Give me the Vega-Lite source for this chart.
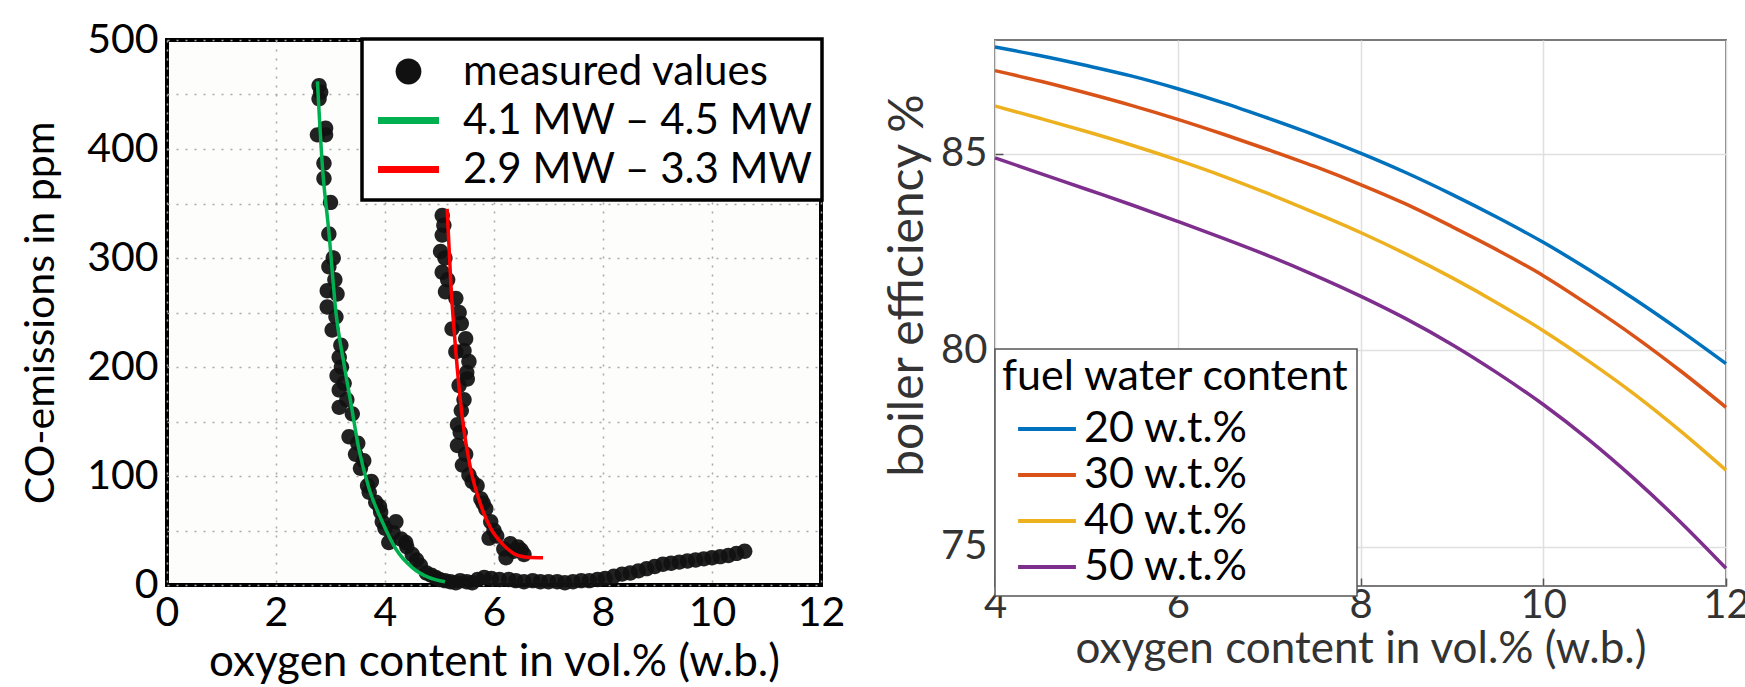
{
  "$schema": "https://vega.github.io/schema/vega-lite/v6.json",
  "background": "white",
  "padding": {"left": 18, "top": 17, "right": 0, "bottom": 0},
  "autosize": {"type": "pad"},
  "config": {"font": "Lato"},
  "spacing": 174,
  "bounds": "flush",
  "datasets": {
    "measured": [
      {"o2": 2.79, "co": 458}, {"o2": 2.79, "co": 446}, {"o2": 2.82, "co": 452}, {"o2": 2.76, "co": 413}, {"o2": 2.91, "co": 419},
      {"o2": 2.91, "co": 413}, {"o2": 2.88, "co": 387}, {"o2": 2.88, "co": 373}, {"o2": 3.0, "co": 351}, {"o2": 2.97, "co": 322},
      {"o2": 3.05, "co": 300}, {"o2": 2.97, "co": 292}, {"o2": 3.08, "co": 280}, {"o2": 2.94, "co": 270}, {"o2": 3.12, "co": 267},
      {"o2": 2.94, "co": 255}, {"o2": 3.1, "co": 246}, {"o2": 3.03, "co": 234}, {"o2": 3.19, "co": 220}, {"o2": 3.16, "co": 209},
      {"o2": 3.2, "co": 200}, {"o2": 3.12, "co": 192}, {"o2": 3.25, "co": 185}, {"o2": 3.16, "co": 179}, {"o2": 3.3, "co": 170},
      {"o2": 3.16, "co": 163}, {"o2": 3.4, "co": 157}, {"o2": 3.34, "co": 136}, {"o2": 3.5, "co": 130}, {"o2": 3.46, "co": 120},
      {"o2": 3.61, "co": 114}, {"o2": 3.55, "co": 107}, {"o2": 3.75, "co": 95}, {"o2": 3.68, "co": 91}, {"o2": 3.71, "co": 85},
      {"o2": 3.83, "co": 76}, {"o2": 3.9, "co": 72}, {"o2": 3.92, "co": 67}, {"o2": 3.95, "co": 58}, {"o2": 4.2, "co": 58},
      {"o2": 4.0, "co": 52}, {"o2": 4.15, "co": 48}, {"o2": 4.3, "co": 42}, {"o2": 4.07, "co": 39}, {"o2": 4.38, "co": 39},
      {"o2": 4.4, "co": 35}, {"o2": 4.5, "co": 28}, {"o2": 4.58, "co": 23}, {"o2": 4.65, "co": 18}, {"o2": 4.76, "co": 11},
      {"o2": 4.85, "co": 9}, {"o2": 4.93, "co": 7}, {"o2": 5.0, "co": 5}, {"o2": 5.1, "co": 4}, {"o2": 5.2, "co": 3},
      {"o2": 5.3, "co": 2}, {"o2": 5.38, "co": 4}, {"o2": 5.5, "co": 3}, {"o2": 5.6, "co": 2}, {"o2": 5.7, "co": 5},
      {"o2": 5.82, "co": 7}, {"o2": 5.95, "co": 6}, {"o2": 6.1, "co": 5}, {"o2": 6.27, "co": 5}, {"o2": 6.4, "co": 4},
      {"o2": 6.55, "co": 3}, {"o2": 6.71, "co": 4}, {"o2": 6.85, "co": 3}, {"o2": 7.0, "co": 3}, {"o2": 7.16, "co": 3},
      {"o2": 7.3, "co": 2}, {"o2": 7.45, "co": 3}, {"o2": 7.6, "co": 4}, {"o2": 7.75, "co": 4}, {"o2": 7.9, "co": 5},
      {"o2": 8.04, "co": 6}, {"o2": 8.2, "co": 8}, {"o2": 8.35, "co": 10}, {"o2": 8.5, "co": 11}, {"o2": 8.65, "co": 13},
      {"o2": 8.8, "co": 15}, {"o2": 8.95, "co": 17}, {"o2": 9.1, "co": 19}, {"o2": 9.25, "co": 20}, {"o2": 9.4, "co": 21},
      {"o2": 9.55, "co": 22}, {"o2": 9.7, "co": 23}, {"o2": 9.85, "co": 24}, {"o2": 10.0, "co": 25}, {"o2": 10.15, "co": 26},
      {"o2": 10.3, "co": 27}, {"o2": 10.45, "co": 29}, {"o2": 10.6, "co": 31},
      {"o2": 5.05, "co": 339}, {"o2": 5.08, "co": 330}, {"o2": 5.05, "co": 321}, {"o2": 5.02, "co": 306}, {"o2": 5.1, "co": 300},
      {"o2": 5.05, "co": 287}, {"o2": 5.15, "co": 280}, {"o2": 5.11, "co": 269}, {"o2": 5.3, "co": 263}, {"o2": 5.36, "co": 250},
      {"o2": 5.4, "co": 240}, {"o2": 5.23, "co": 235}, {"o2": 5.48, "co": 226}, {"o2": 5.45, "co": 215}, {"o2": 5.3, "co": 214},
      {"o2": 5.54, "co": 205}, {"o2": 5.5, "co": 195}, {"o2": 5.51, "co": 189}, {"o2": 5.36, "co": 183}, {"o2": 5.45, "co": 170},
      {"o2": 5.4, "co": 160}, {"o2": 5.33, "co": 147}, {"o2": 5.38, "co": 140}, {"o2": 5.33, "co": 128}, {"o2": 5.48, "co": 120},
      {"o2": 5.42, "co": 110}, {"o2": 5.54, "co": 101}, {"o2": 5.6, "co": 95}, {"o2": 5.69, "co": 91}, {"o2": 5.76, "co": 79},
      {"o2": 5.8, "co": 75}, {"o2": 5.85, "co": 70}, {"o2": 5.94, "co": 58}, {"o2": 6.0, "co": 50}, {"o2": 6.05, "co": 45},
      {"o2": 5.91, "co": 43}, {"o2": 6.3, "co": 38}, {"o2": 6.44, "co": 35}, {"o2": 6.18, "co": 33}, {"o2": 6.5, "co": 32},
      {"o2": 6.36, "co": 31}, {"o2": 6.55, "co": 28}, {"o2": 6.22, "co": 25}
    ],
    "fits": [
      {"series": "4.1 MW – 4.5 MW", "o2": 2.76, "co": 462}, {"series": "4.1 MW – 4.5 MW", "o2": 2.85, "co": 385},
      {"series": "4.1 MW – 4.5 MW", "o2": 2.97, "co": 324}, {"series": "4.1 MW – 4.5 MW", "o2": 3.1, "co": 250},
      {"series": "4.1 MW – 4.5 MW", "o2": 3.25, "co": 202}, {"series": "4.1 MW – 4.5 MW", "o2": 3.37, "co": 168},
      {"series": "4.1 MW – 4.5 MW", "o2": 3.52, "co": 125}, {"series": "4.1 MW – 4.5 MW", "o2": 3.71, "co": 88},
      {"series": "4.1 MW – 4.5 MW", "o2": 3.95, "co": 58}, {"series": "4.1 MW – 4.5 MW", "o2": 4.2, "co": 33},
      {"series": "4.1 MW – 4.5 MW", "o2": 4.5, "co": 16}, {"series": "4.1 MW – 4.5 MW", "o2": 4.8, "co": 7},
      {"series": "4.1 MW – 4.5 MW", "o2": 5.1, "co": 3},
      {"series": "2.9 MW – 3.3 MW", "o2": 5.14, "co": 345}, {"series": "2.9 MW – 3.3 MW", "o2": 5.21, "co": 275},
      {"series": "2.9 MW – 3.3 MW", "o2": 5.3, "co": 214}, {"series": "2.9 MW – 3.3 MW", "o2": 5.42, "co": 153},
      {"series": "2.9 MW – 3.3 MW", "o2": 5.57, "co": 107}, {"series": "2.9 MW – 3.3 MW", "o2": 5.76, "co": 73},
      {"series": "2.9 MW – 3.3 MW", "o2": 5.94, "co": 52}, {"series": "2.9 MW – 3.3 MW", "o2": 6.15, "co": 38},
      {"series": "2.9 MW – 3.3 MW", "o2": 6.36, "co": 29}, {"series": "2.9 MW – 3.3 MW", "o2": 6.6, "co": 25.5},
      {"series": "2.9 MW – 3.3 MW", "o2": 6.9, "co": 25}
    ],
    "eff": [
      {"content": "20 w.t.%", "o2": 4, "eff": 87.72}, {"content": "20 w.t.%", "o2": 4.5, "eff": 87.5}, {"content": "20 w.t.%", "o2": 5, "eff": 87.25},
      {"content": "20 w.t.%", "o2": 5.5, "eff": 86.98}, {"content": "20 w.t.%", "o2": 6, "eff": 86.66}, {"content": "20 w.t.%", "o2": 6.5, "eff": 86.3},
      {"content": "20 w.t.%", "o2": 7, "eff": 85.9}, {"content": "20 w.t.%", "o2": 7.5, "eff": 85.48}, {"content": "20 w.t.%", "o2": 8, "eff": 85.02},
      {"content": "20 w.t.%", "o2": 8.5, "eff": 84.52}, {"content": "20 w.t.%", "o2": 9, "eff": 83.97}, {"content": "20 w.t.%", "o2": 9.5, "eff": 83.38},
      {"content": "20 w.t.%", "o2": 10, "eff": 82.75}, {"content": "20 w.t.%", "o2": 10.5, "eff": 82.05}, {"content": "20 w.t.%", "o2": 11, "eff": 81.3},
      {"content": "20 w.t.%", "o2": 11.5, "eff": 80.5}, {"content": "20 w.t.%", "o2": 12, "eff": 79.66},
      {"content": "30 w.t.%", "o2": 4, "eff": 87.12}, {"content": "30 w.t.%", "o2": 4.5, "eff": 86.85}, {"content": "30 w.t.%", "o2": 5, "eff": 86.55},
      {"content": "30 w.t.%", "o2": 5.5, "eff": 86.23}, {"content": "30 w.t.%", "o2": 6, "eff": 85.88}, {"content": "30 w.t.%", "o2": 6.5, "eff": 85.5},
      {"content": "30 w.t.%", "o2": 7, "eff": 85.1}, {"content": "30 w.t.%", "o2": 7.5, "eff": 84.68}, {"content": "30 w.t.%", "o2": 8, "eff": 84.22},
      {"content": "30 w.t.%", "o2": 8.5, "eff": 83.72}, {"content": "30 w.t.%", "o2": 9, "eff": 83.15}, {"content": "30 w.t.%", "o2": 9.5, "eff": 82.55},
      {"content": "30 w.t.%", "o2": 10, "eff": 81.9}, {"content": "30 w.t.%", "o2": 10.5, "eff": 81.15}, {"content": "30 w.t.%", "o2": 11, "eff": 80.35},
      {"content": "30 w.t.%", "o2": 11.5, "eff": 79.48}, {"content": "30 w.t.%", "o2": 12, "eff": 78.55},
      {"content": "40 w.t.%", "o2": 4, "eff": 86.22}, {"content": "40 w.t.%", "o2": 4.5, "eff": 85.9}, {"content": "40 w.t.%", "o2": 5, "eff": 85.57},
      {"content": "40 w.t.%", "o2": 5.5, "eff": 85.22}, {"content": "40 w.t.%", "o2": 6, "eff": 84.84}, {"content": "40 w.t.%", "o2": 6.5, "eff": 84.43},
      {"content": "40 w.t.%", "o2": 7, "eff": 83.98}, {"content": "40 w.t.%", "o2": 7.5, "eff": 83.5}, {"content": "40 w.t.%", "o2": 8, "eff": 83.0},
      {"content": "40 w.t.%", "o2": 8.5, "eff": 82.45}, {"content": "40 w.t.%", "o2": 9, "eff": 81.85}, {"content": "40 w.t.%", "o2": 9.5, "eff": 81.2},
      {"content": "40 w.t.%", "o2": 10, "eff": 80.5}, {"content": "40 w.t.%", "o2": 10.5, "eff": 79.72}, {"content": "40 w.t.%", "o2": 11, "eff": 78.88},
      {"content": "40 w.t.%", "o2": 11.5, "eff": 77.95}, {"content": "40 w.t.%", "o2": 12, "eff": 76.95},
      {"content": "50 w.t.%", "o2": 4, "eff": 84.9}, {"content": "50 w.t.%", "o2": 4.5, "eff": 84.5}, {"content": "50 w.t.%", "o2": 5, "eff": 84.1},
      {"content": "50 w.t.%", "o2": 5.5, "eff": 83.7}, {"content": "50 w.t.%", "o2": 6, "eff": 83.28}, {"content": "50 w.t.%", "o2": 6.5, "eff": 82.85},
      {"content": "50 w.t.%", "o2": 7, "eff": 82.4}, {"content": "50 w.t.%", "o2": 7.5, "eff": 81.91}, {"content": "50 w.t.%", "o2": 8, "eff": 81.38},
      {"content": "50 w.t.%", "o2": 8.5, "eff": 80.8}, {"content": "50 w.t.%", "o2": 9, "eff": 80.15}, {"content": "50 w.t.%", "o2": 9.5, "eff": 79.42},
      {"content": "50 w.t.%", "o2": 10, "eff": 78.62}, {"content": "50 w.t.%", "o2": 10.5, "eff": 77.72}, {"content": "50 w.t.%", "o2": 11, "eff": 76.72},
      {"content": "50 w.t.%", "o2": 11.5, "eff": 75.63}, {"content": "50 w.t.%", "o2": 12, "eff": 74.45}
    ]
  },
  "hconcat": [
    {
      "width": 654,
      "height": 545,
      "view": {"stroke": "black", "strokeWidth": 4, "fill": "#fdfdfc"},
      "encoding": {
        "x": {
          "field": "o2", "type": "quantitative",
          "scale": {"domain": [0, 12], "nice": false},
          "axis": {
            "title": "oxygen content in vol.% (w.b.)", "values": [0, 2, 4, 6, 8, 10, 12],
            "grid": true, "gridDash": [2, 7], "gridColor": "#a8a8a8", "gridWidth": 1.5,
            "domain": false, "ticks": false, "labelFlush": false, "labelPadding": 8,
            "labelFontSize": 41, "labelColor": "black", "titleFontSize": 44, "titleColor": "black",
            "titleFontWeight": "normal", "titlePadding": 7
          }
        },
        "y": {
          "field": "co", "type": "quantitative",
          "scale": {"domain": [0, 500], "nice": false},
          "axis": {
            "title": "CO-emissions in ppm", "values": [0, 50, 100, 150, 200, 250, 300, 350, 400, 450, 500],
            "labelExpr": "datum.value % 100 === 0 ? datum.label : ''",
            "grid": true, "gridDash": [2, 7], "gridColor": "#a8a8a8", "gridWidth": 1.5,
            "domain": false, "ticks": false, "labelPadding": 9,
            "labelFontSize": 41, "labelColor": "black", "titleFontSize": 41, "titleColor": "black",
            "titleFontWeight": "normal", "titlePadding": 24
          }
        }
      },
      "layer": [
        {
          "data": {"name": "measured"},
          "transform": [{"calculate": "'measured values'", "as": "series"}],
          "mark": {"type": "point", "filled": true, "opacity": 0.93, "size": 784, "strokeWidth": 0},
          "encoding": {
            "color": {
              "field": "series", "type": "nominal",
              "scale": {"domain": ["measured values", "4.1 MW – 4.5 MW", "2.9 MW – 3.3 MW"], "range": ["#111111", "#00b050", "#ff0000"]},
              "legend": {
                "title": null, "orient": "none", "legendX": 195, "legendY": -1,
                "padding": 9, "strokeColor": "black", "fillColor": "white",
                "labelFontSize": 42, "labelColor": "black", "labelLimit": 600, "labelOffset": 31,
                "symbolSize": 2200, "symbolOffset": 14, "rowPadding": 4, "symbolStrokeWidth": 0, "symbolOpacity": 1,
                "encode": {"legend": {"update": {"strokeWidth": {"value": 3.5}}}}
              }
            },
            "shape": {
              "field": "series", "type": "nominal",
              "scale": {"domain": ["measured values", "4.1 MW – 4.5 MW", "2.9 MW – 3.3 MW"], "range": ["M-0.55,0A0.55,0.55 0 1,0 0.55,0A0.55,0.55 0 1,0 -0.55,0Z", "M-1.3,-0.15H1.3V0.15H-1.3Z", "M-1.3,-0.15H1.3V0.15H-1.3Z"]},
              "legend": {
                "title": null, "orient": "none", "legendX": 195, "legendY": -1,
                "padding": 9, "strokeColor": "black", "fillColor": "white",
                "labelFontSize": 42, "labelColor": "black", "labelLimit": 600, "labelOffset": 31,
                "symbolSize": 2200, "symbolOffset": 14, "rowPadding": 4, "symbolStrokeWidth": 0, "symbolOpacity": 1,
                "encode": {"legend": {"update": {"strokeWidth": {"value": 3.5}}}}
              }
            }
          }
        },
        {
          "data": {"name": "fits"},
          "mark": {"type": "line", "strokeWidth": 3.5, "interpolate": "monotone"},
          "encoding": {
            "color": {"field": "series", "type": "nominal", "legend": null}
          }
        }
      ]
    },
    {
      "width": 731,
      "height": 546,
      "view": {"stroke": "#7a7a7a", "strokeWidth": 2},
      "data": {"name": "eff"},
      "mark": {"type": "line", "strokeWidth": 3.5, "interpolate": "monotone"},
      "encoding": {
        "x": {
          "field": "o2", "type": "quantitative",
          "scale": {"domain": [4, 12], "nice": false, "zero": false},
          "axis": {
            "title": "oxygen content in vol.% (w.b.)", "values": [4, 6, 8, 10, 12],
            "grid": true, "gridColor": "#e0e0e0", "gridWidth": 1.5,
            "domain": false, "ticks": true, "tickSize": -8, "tickColor": "#555555", "tickWidth": 1.5,
            "labelFlush": false, "labelPadding": 7,
            "labelFontSize": 40, "labelColor": "#333333", "titleFontSize": 44, "titleColor": "#333333",
            "titleFontWeight": "normal", "titlePadding": 2,
            "encode": {"labels": {"update": {"dx": {"signal": "datum.value === 12 ? -7 : 0"}}}}
          }
        },
        "y": {
          "field": "eff", "type": "quantitative",
          "scale": {"domain": [74, 87.9], "nice": false, "zero": false},
          "axis": {
            "title": "boiler efficiency %", "values": [75, 80, 85],
            "grid": true, "gridColor": "#e0e0e0", "gridWidth": 1.5,
            "domain": false, "ticks": true, "tickSize": -8, "tickColor": "#555555", "tickWidth": 1.5,
            "labelPadding": 16,
            "labelFontSize": 40, "labelColor": "#333333", "titleFontSize": 48, "titleColor": "#333333",
            "titleFontWeight": "normal", "titlePadding": 8, "titleY": 245
          }
        },
        "color": {
          "field": "content", "type": "nominal",
          "scale": {"domain": ["20 w.t.%", "30 w.t.%", "40 w.t.%", "50 w.t.%"], "range": ["#0072bd", "#d95319", "#edb120", "#7e2f8e"]},
          "legend": {
            "title": "fuel water content", "orient": "none", "legendX": 0, "legendY": 309,
            "padding": 7, "strokeColor": "#555555", "fillColor": "white",
            "titleFontSize": 43, "titleFontWeight": "normal", "titleColor": "black", "titlePadding": 6, "titleLimit": 600,
            "labelFontSize": 43, "labelColor": "black", "labelLimit": 400, "labelOffset": 34,
            "symbolType": "M-0.36,0H2.27", "symbolSize": 1936, "symbolStrokeWidth": 4, "rowPadding": 0,
            "encode": {"legend": {"update": {"strokeWidth": {"value": 1.5}}}}
          }
        }
      }
    }
  ],
  "resolve": {
    "scale": {"x": "independent", "y": "independent", "color": "independent", "shape": "independent"},
    "legend": {"color": "independent", "shape": "independent"}
  }
}
